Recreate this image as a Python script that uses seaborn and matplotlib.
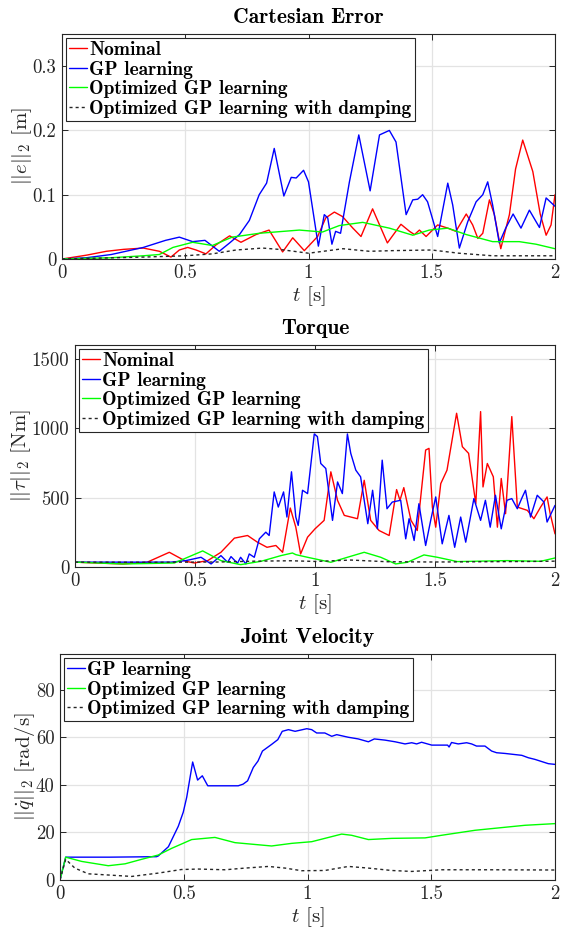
import numpy as np
import pandas as pd
import seaborn as sns
import matplotlib.pyplot as plt

# ---------------- Cartesian error [m] ----------------
t_e_nom = [0, 0.1, 0.18, 0.25, 0.33, 0.395, 0.442, 0.476, 0.51, 0.544, 0.584, 0.625, 0.68, 0.726,
           0.787, 0.84, 0.895, 0.936, 0.983, 1.037, 1.07, 1.105, 1.138, 1.18, 1.213, 1.26, 1.32,
           1.375, 1.41, 1.43, 1.45, 1.477, 1.524, 1.565, 1.598, 1.64, 1.666, 1.687, 1.707, 1.734,
           1.754, 1.78, 1.815, 1.84, 1.869, 1.91, 1.94, 1.964, 1.984, 2.0]
e_nom = [0, 0.006, 0.012, 0.015, 0.017, 0.012, 0.003, 0.014, 0.018, 0.014, 0.008, 0.022, 0.036, 0.026,
         0.038, 0.045, 0.011, 0.033, 0.013, 0.035, 0.064, 0.073, 0.066, 0.048, 0.035, 0.078, 0.025,
         0.054, 0.043, 0.038, 0.045, 0.035, 0.053, 0.048, 0.043, 0.070, 0.053, 0.032, 0.040, 0.092,
         0.069, 0.016, 0.069, 0.140, 0.185, 0.136, 0.070, 0.037, 0.053, 0.100]

t_e_gp = [0, 0.1, 0.2, 0.33, 0.42, 0.476, 0.53, 0.58, 0.638, 0.68, 0.72, 0.76, 0.80, 0.83, 0.861,
          0.90, 0.93, 0.95, 0.98, 1.0, 1.04, 1.064, 1.078, 1.095, 1.11, 1.13, 1.166, 1.204, 1.25,
          1.288, 1.328, 1.355, 1.396, 1.423, 1.443, 1.463, 1.483, 1.524, 1.565, 1.585, 1.612, 1.646,
          1.68, 1.707, 1.727, 1.747, 1.774, 1.80, 1.83, 1.862, 1.896, 1.937, 1.964, 2.0]
e_gp = [0, 0.002, 0.007, 0.018, 0.029, 0.034, 0.027, 0.029, 0.012, 0.025, 0.038, 0.060, 0.100, 0.118, 0.172,
        0.098, 0.127, 0.126, 0.138, 0.120, 0.020, 0.069, 0.064, 0.023, 0.043, 0.040, 0.120, 0.193, 0.106,
        0.193, 0.200, 0.182, 0.069, 0.092, 0.093, 0.100, 0.089, 0.035, 0.118, 0.084, 0.017, 0.058,
        0.089, 0.100, 0.120, 0.084, 0.025, 0.048, 0.070, 0.048, 0.076, 0.049, 0.095, 0.082]

t_e_opt = [0, 0.2, 0.33, 0.395, 0.45, 0.53, 0.61, 0.69, 0.80, 0.963, 1.057, 1.125, 1.22, 1.328,
           1.423, 1.49, 1.565, 1.64, 1.747, 1.855, 1.923, 2.0]
e_opt = [0, 0.002, 0.005, 0.007, 0.018, 0.026, 0.021, 0.034, 0.040, 0.045, 0.042, 0.052, 0.057, 0.048,
         0.037, 0.045, 0.048, 0.038, 0.027, 0.027, 0.023, 0.016]

t_e_damp = [0, 0.33, 0.5, 0.61, 0.706, 0.814, 0.88, 1.0, 1.14, 1.247, 1.34, 1.5, 1.61, 1.747, 1.88, 2.0]
e_damp = [0, 0.003, 0.005, 0.008, 0.014, 0.017, 0.015, 0.009, 0.016, 0.012, 0.013, 0.014, 0.009,
          0.005, 0.005, 0.005]

# ---------------- Torque [Nm] ----------------
t_tau_nom = [0, 0.1, 0.2, 0.3, 0.393, 0.462, 0.497, 0.553, 0.608, 0.664, 0.719, 0.76, 0.80, 0.837,
             0.865, 0.897, 0.92, 0.94, 0.969, 1.0, 1.038, 1.066, 1.094, 1.122, 1.177, 1.205, 1.232,
             1.267, 1.309, 1.34, 1.354, 1.37, 1.40, 1.426, 1.461, 1.475, 1.489, 1.503, 1.524, 1.55,
             1.59, 1.614, 1.64, 1.67, 1.69, 1.70, 1.718, 1.743, 1.76, 1.776, 1.794, 1.82, 1.843,
             1.885, 1.912, 1.94, 1.967, 1.98, 2.0]
tau_nom = [35, 28, 22, 34, 106, 41, 29, 46, 106, 208, 227, 179, 142, 155,
           106, 425, 287, 94, 215, 275, 336, 686, 480, 372, 348, 625, 336,
           263, 227, 558, 481, 572, 336, 263, 843, 855, 432, 287, 601, 698,
           1108, 867, 819, 456, 1120, 577, 746, 650, 287, 638, 384, 1084, 432,
           408, 348, 432, 505, 384, 239]

t_tau_gp = [0, 0.2, 0.4, 0.462, 0.525, 0.567, 0.608, 0.636, 0.65, 0.677, 0.69, 0.712, 0.726, 0.747,
            0.768, 0.795, 0.809, 0.83, 0.847, 0.869, 0.883, 0.902, 0.92, 0.93, 0.948, 0.969, 0.997,
            1.01, 1.024, 1.045, 1.073, 1.094, 1.114, 1.135, 1.149, 1.17, 1.19, 1.22, 1.24, 1.26,
            1.28, 1.30, 1.322, 1.357, 1.378, 1.392, 1.413, 1.433, 1.461, 1.482, 1.503, 1.53, 1.558,
            1.582, 1.607, 1.628, 1.662, 1.69, 1.71, 1.73, 1.752, 1.776, 1.80, 1.82, 1.843, 1.864,
            1.877, 1.898, 1.926, 1.954, 1.967, 2.0]
tau_gp = [35, 35, 35, 46, 70, 22, 82, 34, 75, 27, 70, 22, 94, 70,
          203, 251, 227, 541, 432, 541, 360, 686, 360, 300, 553, 529, 959,
          940, 746, 710, 336, 613, 529, 959, 819, 698, 650, 312, 553, 275,
          770, 420, 468, 481, 203, 348, 191, 456, 155, 336, 505, 167, 372,
          142, 360, 179, 493, 336, 481, 287, 517, 275, 481, 493, 420, 505,
          553, 360, 517, 468, 324, 444]

t_tau_opt = [0, 0.2, 0.3, 0.414, 0.532, 0.608, 0.69, 0.775, 0.858, 0.906, 0.92, 0.969, 1.066, 1.135,
             1.205, 1.274, 1.336, 1.385, 1.454, 1.51, 1.593, 1.8, 1.94, 2.0]
tau_opt = [35, 22, 25, 29, 116, 46, 17, 41, 82, 101, 89, 70, 34, 70,
           106, 70, 22, 34, 87, 70, 39, 46, 41, 65]

t_tau_damp = [0, 0.3, 0.6, 0.75, 0.9, 1.0, 1.15, 1.3, 1.5, 1.7, 1.9, 2.0]
tau_damp = [35, 34, 36, 42, 45, 40, 50, 38, 36, 38, 40, 42]

# ---------------- Joint velocity [rad/s] ----------------
t_v_gp = [0, 0.023, 0.2, 0.39, 0.397, 0.438, 0.478, 0.498, 0.512, 0.536, 0.556, 0.575, 0.597, 0.72,
          0.74, 0.758, 0.781, 0.80, 0.818, 0.855, 0.88, 0.898, 0.923, 0.95, 0.997, 1.017, 1.037, 1.07,
          1.098, 1.118, 1.165, 1.205, 1.246, 1.27, 1.313, 1.354, 1.394, 1.421, 1.441, 1.461, 1.502,
          1.566, 1.572, 1.582, 1.609, 1.643, 1.663, 1.683, 1.717, 1.744, 1.764, 1.798, 1.832, 1.866,
          1.892, 1.919, 1.946, 1.973, 2.0]
v_gp = [0, 9.6, 9.6, 9.8, 10.1, 14.0, 22.6, 28.5, 34.8, 49.6, 42.0, 43.8, 39.6, 39.6,
        40.3, 41.7, 47.3, 50.0, 54.2, 57.0, 59.0, 62.5, 63.2, 62.5, 63.6, 63.2, 61.8, 61.8,
        60.4, 61.1, 60.0, 59.3, 58.1, 59.3, 58.8, 58.1, 57.2, 57.7, 57.2, 57.9, 56.7,
        56.7, 55.9, 57.8, 57.2, 57.7, 57.2, 56.3, 56.3, 54.2, 53.5, 53.2, 52.8, 52.4,
        51.4, 50.7, 49.8, 48.9, 48.6]

t_v_opt = [0, 0.023, 0.088, 0.195, 0.263, 0.33, 0.397, 0.451, 0.532, 0.626, 0.707, 0.855, 0.936,
           1.017, 1.07, 1.138, 1.178, 1.246, 1.34, 1.475, 1.542, 1.677, 1.811, 1.879, 2.0]
v_opt = [0, 9.6, 7.8, 6.0, 6.8, 8.7, 10.5, 13.3, 17.0, 17.9, 15.7, 14.3, 15.4,
         16.1, 17.5, 19.3, 18.8, 17.0, 17.5, 17.7, 18.8, 20.9, 22.3, 23.0, 23.7]

t_v_damp = [0, 0.023, 0.06, 0.114, 0.195, 0.29, 0.397, 0.49, 0.559, 0.667, 0.747, 0.842, 0.91,
            0.976, 1.07, 1.165, 1.246, 1.34, 1.421, 1.542, 1.744, 2.0]
v_damp = [0, 8.7, 5.0, 2.6, 2.1, 1.5, 2.9, 4.4, 4.6, 4.3, 5.0, 5.7, 5.0,
          3.9, 4.0, 5.7, 5.0, 4.0, 3.6, 4.3, 4.3, 4.2]

labels = ['Nominal', 'GP learning', 'Optimized GP learning', 'Optimized GP learning with damping']
colors = ['#ff0000', '#0000ff', '#00ff00', '#262626']

sns.set_theme(style='whitegrid')
plt.rcParams.update({
    'font.family': 'cmr10',
    'mathtext.fontset': 'cm',
    'axes.formatter.use_mathtext': True,
    'axes.edgecolor': '#262626',
    'axes.linewidth': 0.8,
    'grid.color': '#e3e3e3',
    'grid.linewidth': 0.9,
    'xtick.color': '#262626',
    'ytick.color': '#262626',
    'xtick.direction': 'in',
    'ytick.direction': 'in',
    'xtick.top': True,
    'ytick.right': True,
    'xtick.bottom': True,
    'ytick.left': True,
    'xtick.major.size': 4,
    'ytick.major.size': 4,
    'xtick.major.width': 0.7,
    'ytick.major.width': 0.7,
    'xtick.labelsize': 13.5,
    'ytick.labelsize': 13.5,
    'axes.labelsize': 15,
    'axes.labelcolor': '#262626',
})

fig = plt.figure(figsize=(5.61, 9.30), dpi=100)
ax1 = fig.add_axes([62 / 561, 1 - 259 / 930, 493 / 561, 225 / 930])
ax2 = fig.add_axes([75 / 561, 1 - 567 / 930, 480 / 561, 222 / 930])
ax3 = fig.add_axes([60 / 561, 1 - 880 / 930, 495 / 561, 226 / 930])


def draw(ax, series, names, cols):
    for (tt, vv), name, c in zip(series, names, cols):
        df = pd.DataFrame({'t': tt, 'v': vv})
        ls = (0, (2.2, 2.2)) if 'damping' in name else '-'
        sns.lineplot(data=df, x='t', y='v', ax=ax, color=c, linewidth=1.0,
                     linestyle=ls, label=name)


draw(ax1, [(t_e_nom, e_nom), (t_e_gp, e_gp), (t_e_opt, e_opt), (t_e_damp, e_damp)], labels, colors)
draw(ax2, [(t_tau_nom, tau_nom), (t_tau_gp, tau_gp), (t_tau_opt, tau_opt), (t_tau_damp, tau_damp)],
     labels, colors)
draw(ax3, [(t_v_gp, v_gp), (t_v_opt, v_opt), (t_v_damp, v_damp)], labels[1:], colors[1:])

specs = [
    (ax1, 'Cartesian Error', r'$||e||_2$ [m]', (0, 0.35), [0, 0.1, 0.2, 0.3], ['0', '0.1', '0.2', '0.3']),
    (ax2, 'Torque', r'$||\tau||_2$ [Nm]', (0, 1600), [0, 500, 1000, 1500], ['0', '500', '1000', '1500']),
    (ax3, 'Joint Velocity', r'$||\dot{q}||_2$ [rad/s]', (0, 95), [0, 20, 40, 60, 80],
     ['0', '20', '40', '60', '80']),
]
for ax, title, ylab, ylim, yt, ytl in specs:
    ax.set_xlim(0, 2)
    ax.set_ylim(*ylim)
    ax.set_xticks([0, 0.5, 1, 1.5, 2])
    ax.set_xticklabels(['0', '0.5', '1', '1.5', '2'])
    ax.set_yticks(yt)
    ax.set_yticklabels(ytl)
    ax.tick_params(axis='both', pad=4)
    ax.set_title(title, fontfamily='cmb10', fontsize=15.5, pad=8, color='black')
    ax.set_xlabel(r'$t$ [s]', labelpad=1)
    ax.set_ylabel(ylab, labelpad=-1)
    for sp in ax.spines.values():
        sp.set_visible(True)
        sp.set_color('#262626')
        sp.set_linewidth(0.8)
    leg = ax.legend(loc='upper left', prop={'family': 'cmb10', 'size': 14},
                    handlelength=0.95, handletextpad=0.1, borderpad=0.16,
                    labelspacing=0.08, borderaxespad=0.2, fancybox=False,
                    framealpha=1, edgecolor='#262626')
    leg.get_frame().set_linewidth(0.8)
    for txt in leg.get_texts():
        txt.set_color('black')

fig.savefig('out.png', dpi=100)
